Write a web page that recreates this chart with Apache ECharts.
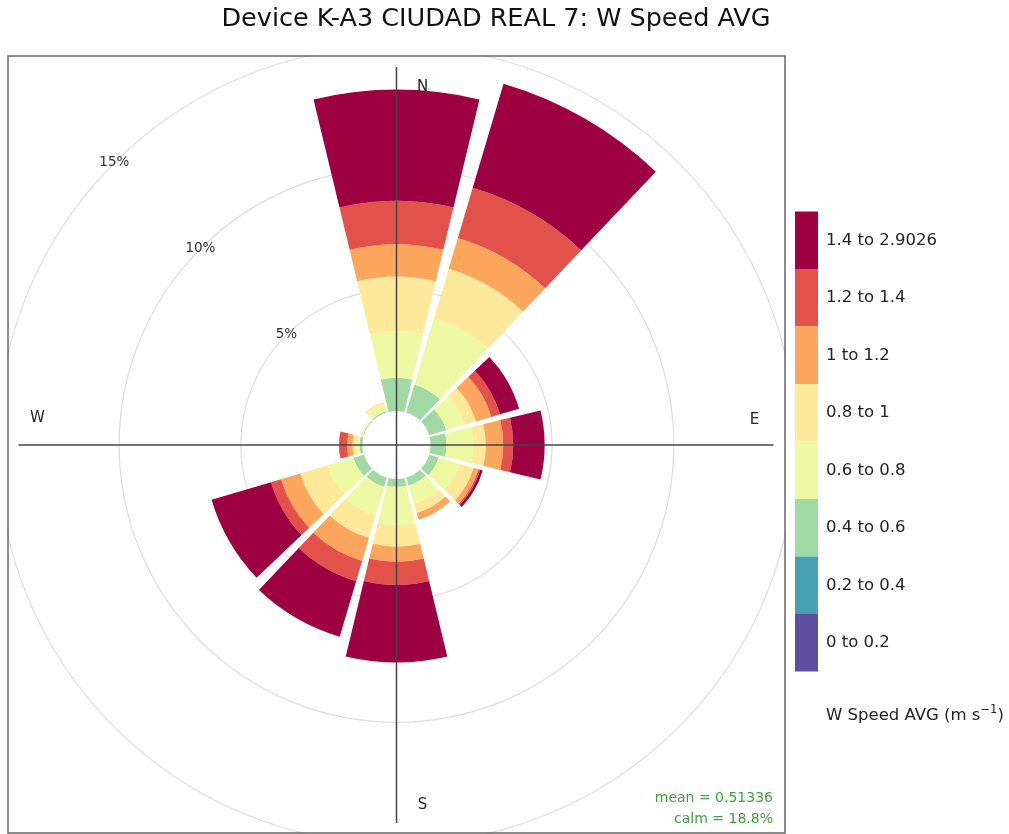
<!DOCTYPE html>
<html>
<head>
<meta charset="utf-8">
<script src="https://cdn.jsdelivr.net/npm/echarts@6/dist/echarts.min.js"></script>
<style>
  html, body { margin: 0; padding: 0; background: #fff; }
  #chart { width: 1009px; height: 834px; }
</style>
</head>
<body>
<div id="chart"></div>
<script>
// wind directions (degrees, clockwise from N)
const directions = ['0', '30', '60', '90', '120', '150', '180', '210', '240', '270', '300', '330'];
// speed bins (legend order bottom -> top)
const binNames = ['0 to 0.2', '0.2 to 0.4', '0.4 to 0.6', '0.6 to 0.8', '0.8 to 1', '1 to 1.2', '1.2 to 1.4', '1.4 to 2.9026'];
const binColors = ['#5E4FA2', '#48A1B3', '#A1D9A4', '#EDF8A3', '#FEE99A', '#FCA55D', '#E2524A', '#9E0142'];
// frequency (%) of each bin per direction
const bin0 = [0, 0, 0, 0, 0, 0, 0, 0, 0, 0, 0, 0];
const bin1 = [0, 0, 0, 0, 0, 0, 0, 0, 0, 0, 0, 0];
const bin2 = [1.37, 1.20, 0.74, 0.66, 0.41, 0.35, 0.32, 0.40, 0.45, 0.12, 0.04, 0.06];
const bin3 = [1.92, 2.84, 0.78, 1.09, 0.90, 0.76, 1.57, 1.24, 1.10, 0.15, 0.06, 0.30];
const bin4 = [2.23, 2.12, 0.49, 0.52, 0.60, 0.41, 0.89, 0.95, 1.18, 0.14, 0, 0.10];
const bin5 = [1.33, 1.32, 0.66, 0.72, 0.21, 0.29, 0.62, 0.98, 0.82, 0.22, 0, 0];
const bin6 = [1.79, 2.15, 0.37, 0.41, 0.07, 0, 0.95, 0.87, 0.43, 0.34, 0, 0];
const bin7 = [4.57, 4.46, 0.82, 1.29, 0.11, 0, 3.19, 2.38, 2.55, 0, 0, 0];
const binData = [bin0, bin1, bin2, bin3, bin4, bin5, bin6, bin7];
const radialTicks = [0, 5, 10, 15];

const cx = 396.5, cy = 445, r0 = 34, r1 = 399;
const font = 'DejaVu Sans';

const chart = echarts.init(document.getElementById('chart'));

const series = binNames.map(function (name, i) {
  return {
    name: name,
    type: 'bar',
    coordinateSystem: 'polar',
    polarIndex: 0,
    stack: 'ws',
    barCategoryGap: '10%',
    itemStyle: { color: binColors[i] },
    data: binData[i]
  };
});

function txt(x, y, text, size, align) {
  return {
    type: 'text', x: x, y: y, z: 10,
    style: { text: text, fill: '#222', font: size + 'px "' + font + '"', textAlign: align || 'center', textVerticalAlign: 'middle' }
  };
}

const option = {
  animation: false,
  backgroundColor: '#fff',
  title: {
    text: 'Device K-A3 CIUDAD REAL 7: W Speed AVG',
    left: 496, top: 6, textAlign: 'center', padding: 0,
    textStyle: { fontFamily: font, fontSize: 25.5, fontWeight: 'normal', color: '#111' }
  },
  legend: {
    orient: 'vertical',
    left: 795, top: 211.5, padding: 0,
    itemWidth: 23, itemHeight: 57.5, itemGap: 0,
    icon: 'rect', selectedMode: false,
    data: binNames.slice().reverse(),
    textStyle: { fontFamily: font, fontSize: 16.5, color: '#222', padding: [0, 0, 0, 3] }
  },
  polar: [
    { center: [cx, cy], radius: [r0, r1] },
    { center: [cx, cy], radius: [r0, r1] }
  ],
  angleAxis: [
    {
      polarIndex: 0, type: 'category', data: directions, startAngle: 105, clockwise: true,
      axisLine: { show: false }, axisTick: { show: false }, axisLabel: { show: false }, splitLine: { show: false }
    },
    {
      polarIndex: 1, type: 'value', min: 0, max: 360, startAngle: 135, show: false
    }
  ],
  radiusAxis: [
    {
      polarIndex: 0, type: 'value', min: 0, max: 15, interval: 5,
      axisLine: { show: false }, axisTick: { show: false }, axisLabel: { show: false },
      splitLine: { show: true, lineStyle: { color: ['rgba(0,0,0,0)', '#dcdcdc', '#dcdcdc', '#dcdcdc'], width: 1.2 } }
    },
    {
      polarIndex: 1, type: 'value', min: radialTicks[0], max: radialTicks[3], interval: 5,
      axisLine: { show: false }, axisTick: { show: false }, splitLine: { show: false },
      axisLabel: {
        show: true, showMinLabel: false, margin: 0, align: 'center', verticalAlign: 'middle',
        formatter: '{value}%', fontFamily: font, fontSize: 13.5, color: '#333'
      }
    }
  ],
  graphic: [
    // mask the grid outside the panel
    { type: 'rect', z: 3, shape: { x: 0, y: 38, width: 7.5, height: 800 }, style: { fill: '#fff' } },
    { type: 'rect', z: 3, shape: { x: 785.5, y: 38, width: 14, height: 800 }, style: { fill: '#fff' } },
    { type: 'rect', z: 3, shape: { x: 0, y: 38, width: 800, height: 17.5 }, style: { fill: '#fff' } },
    // panel frame
    { type: 'rect', z: 9, shape: { x: 8, y: 56, width: 777, height: 777 }, style: { fill: 'none', stroke: '#666', lineWidth: 1.5 } },
    // N-S and E-W axes
    { type: 'line', z: 9, shape: { x1: cx, y1: cy - 378, x2: cx, y2: cy + 378 }, style: { stroke: '#444', lineWidth: 1.5 } },
    { type: 'line', z: 9, shape: { x1: cx - 378, y1: cy, x2: cx + 377, y2: cy }, style: { stroke: '#444', lineWidth: 1.5 } },
    txt(cx + 26, cy - 358, 'N', 15),
    txt(cx + 358, cy - 25, 'E', 15),
    txt(cx + 26, cy + 360, 'S', 15),
    txt(cx - 359, cy - 27, 'W', 15),
    {
      type: 'text', x: 826, y: 704, z: 10,
      style: {
        text: '{a|W Speed AVG (m s}{s|\u22121}{a|)}',
        fill: '#222', textAlign: 'left', textVerticalAlign: 'top',
        rich: {
          a: { fontFamily: font, fontSize: 16.5, lineHeight: 24, verticalAlign: 'middle', fill: '#222' },
          s: { fontFamily: font, fontSize: 11.5, lineHeight: 10, verticalAlign: 'top', fill: '#222' }
        }
      }
    },
    {
      type: 'text', x: 773, y: 798, z: 10,
      style: { text: 'mean = 0.51336', fill: '#3da33d', font: '14px "' + font + '"', textAlign: 'right', textVerticalAlign: 'middle' }
    },
    {
      type: 'text', x: 773, y: 819, z: 10,
      style: { text: 'calm = 18.8%', fill: '#3da33d', font: '14px "' + font + '"', textAlign: 'right', textVerticalAlign: 'middle' }
    }
  ],
  series: series
};

chart.setOption(option);
</script>
</body>
</html>
